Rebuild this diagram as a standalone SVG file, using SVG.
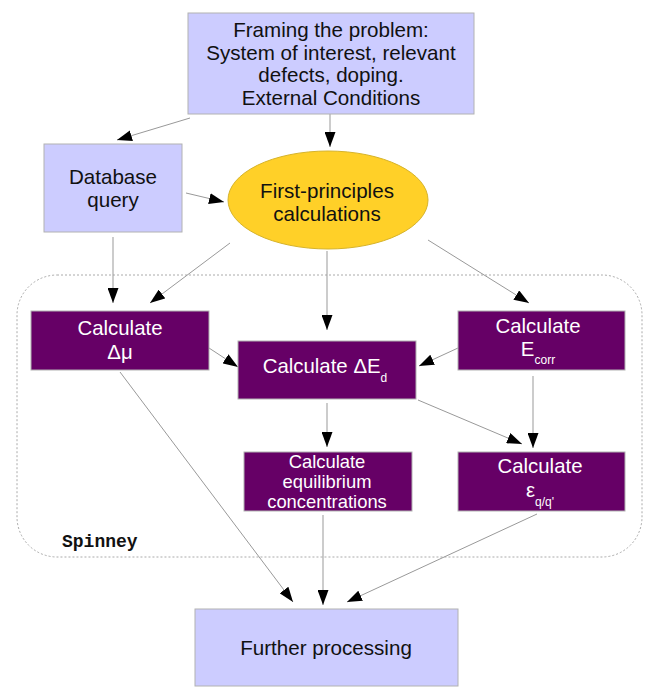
<svg xmlns="http://www.w3.org/2000/svg" width="665" height="695" viewBox="0 0 665 695">
<defs>
<style>
.blue{fill:#ccccff;stroke:#b2b2b2;stroke-width:1}
.purple{fill:#660066;stroke:#b2b2b2;stroke-width:1}
.t{font-family:"Liberation Sans",Arial,sans-serif;font-size:20.6px;fill:#111;text-anchor:middle}
.w{font-family:"Liberation Sans",Arial,sans-serif;font-size:20.4px;fill:#ffffff;text-anchor:middle}
.s{font-size:12px}
.c{stroke:#999999;stroke-width:1;fill:none;marker-end:url(#ah)}
</style>
<marker id="ah" markerWidth="15" markerHeight="11" refX="15" refY="5.5" orient="auto" markerUnits="userSpaceOnUse">
<path d="M0,0 L15,5.5 L0,11 Z" fill="#000"/>
</marker>
</defs>
<rect width="665" height="695" fill="#ffffff"/>
<g id="spinney">
<rect x="17" y="275" width="625" height="282" rx="40" ry="40" fill="none" stroke="#aaaaaa" stroke-width="1" stroke-dasharray="2,2"/>
<text x="62" y="547" font-family="'Liberation Mono',monospace" font-size="18" font-weight="bold" fill="#111">Spinney</text>
</g>
<g id="connectors">
<line class="c" x1="190" y1="118" x2="117" y2="140"/>
<line class="c" x1="330" y1="114" x2="330" y2="147"/>
<line class="c" x1="186" y1="193" x2="224" y2="202"/>
<line class="c" x1="113" y1="237" x2="113" y2="303"/>
<line class="c" x1="230" y1="243" x2="150" y2="303"/>
<line class="c" x1="327" y1="251" x2="327" y2="330"/>
<line class="c" x1="428" y1="240" x2="529" y2="303"/>
<line class="c" x1="209" y1="348" x2="238" y2="367"/>
<line class="c" x1="458" y1="348" x2="419" y2="366"/>
<line class="c" x1="327" y1="403" x2="327" y2="447"/>
<line class="c" x1="418" y1="400" x2="522" y2="444"/>
<line class="c" x1="533" y1="376" x2="533" y2="448"/>
<line class="c" x1="120" y1="372" x2="293" y2="602"/>
<line class="c" x1="323" y1="515" x2="323" y2="605"/>
<line class="c" x1="537" y1="514" x2="347" y2="602"/>
</g>
<g id="framing">
<rect class="blue" x="188" y="13" width="286" height="101"/>
<text class="t" x="331" y="37">Framing the problem:</text>
<text class="t" x="331" y="60">System of interest, relevant</text>
<text class="t" x="331" y="82">defects, doping.</text>
<text class="t" x="331" y="105">External Conditions</text>
</g>
<g id="database">
<rect class="blue" x="44" y="144" width="138" height="88"/>
<text class="t" x="113" y="184">Database</text>
<text class="t" x="113" y="207">query</text>
</g>
<g id="firstprinciples">
<ellipse cx="328" cy="200" rx="100" ry="49" fill="#ffd028" stroke="#d6b32a" stroke-width="1"/>
<text class="t" x="327" y="198">First-principles</text>
<text class="t" x="327" y="221">calculations</text>
</g>
<g id="dmu">
<rect class="purple" x="31" y="311" width="178" height="59"/>
<text class="w" x="120" y="335">Calculate</text>
<text class="w" x="120" y="359">Δμ</text>
</g>
<g id="ded">
<rect class="purple" x="238" y="341" width="178" height="58"/>
<text class="w" x="325" y="373">Calculate ΔE<tspan class="s" dy="9">d</tspan></text>
</g>
<g id="ecorr">
<rect class="purple" x="458" y="311" width="167" height="59"/>
<text class="w" x="538" y="333">Calculate</text>
<text class="w" x="538" y="356">E<tspan class="s" dy="8">corr</tspan></text>
</g>
<g id="equilibrium">
<rect class="purple" x="244" y="452" width="168" height="59"/>
<text class="w" x="327" y="468" style="font-size:18.4px">Calculate</text>
<text class="w" x="327" y="488" style="font-size:18.4px">equilibrium</text>
<text class="w" x="327" y="508" style="font-size:18.4px">concentrations</text>
</g>
<g id="epsilon">
<rect class="purple" x="458" y="452" width="167" height="59"/>
<text class="w" x="540" y="473">Calculate</text>
<text class="w" x="540" y="497">ε<tspan class="s" dy="9">q/q'</tspan></text>
</g>
<g id="further">
<rect class="blue" x="195" y="609" width="263" height="77"/>
<text class="t" x="326" y="655">Further processing</text>
</g>
</svg>
